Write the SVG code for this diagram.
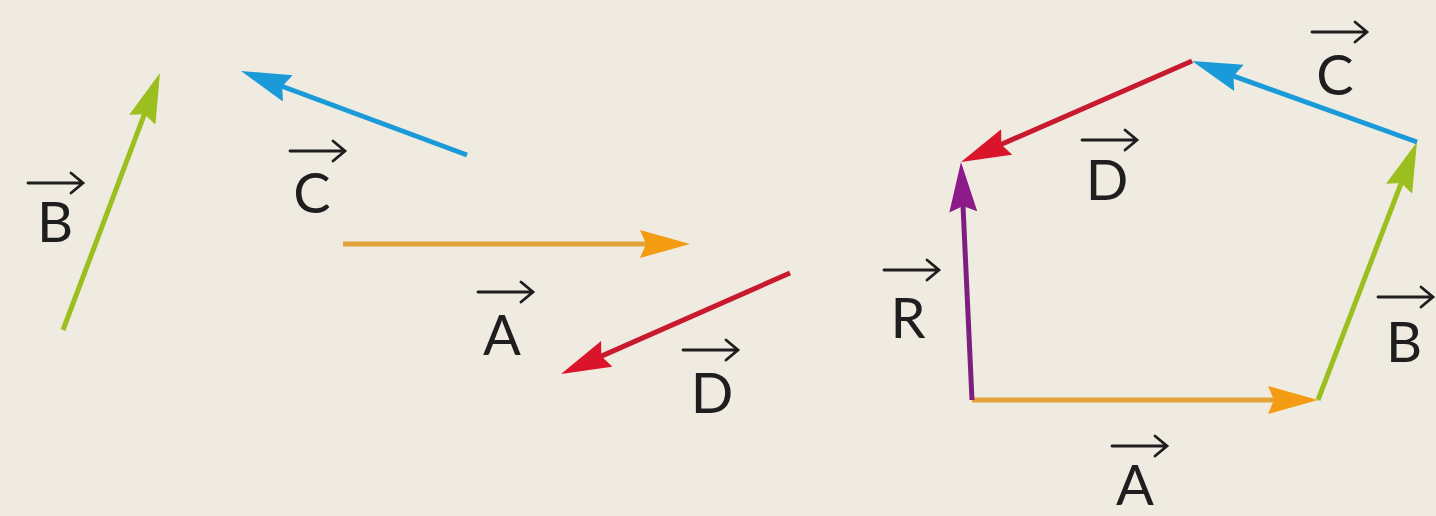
<svg xmlns="http://www.w3.org/2000/svg" width="1436" height="516" viewBox="0 0 1436 516">
<style>
.v{fill:none;stroke-width:5;stroke-linecap:butt}
.lbl{font-family:Lato,"Open Sans","Liberation Sans",sans-serif;font-size:56px;fill:#1e1e1e;text-anchor:middle}
.ov{fill:none;stroke:#1e1e1e;stroke-width:2.8;stroke-linecap:round;stroke-linejoin:miter}
</style>
<defs>
<marker id="hg" viewBox="0 0 50 28" refX="30" refY="14" markerWidth="50" markerHeight="28" markerUnits="userSpaceOnUse" orient="auto"><path d="M0 0L50 14L0 28L6 14Z" fill="#9bbf1e"/></marker>
<marker id="hb" viewBox="0 0 50 28" refX="30" refY="14" markerWidth="50" markerHeight="28" markerUnits="userSpaceOnUse" orient="auto"><path d="M0 0L50 14L0 28L6 14Z" fill="#1a9ad8"/></marker>
<marker id="ho" viewBox="0 0 50 28" refX="30" refY="14" markerWidth="50" markerHeight="28" markerUnits="userSpaceOnUse" orient="auto"><path d="M0 0L50 14L0 28L6 14Z" fill="#f39c12"/></marker>
<marker id="hr" viewBox="0 0 50 28" refX="30" refY="14" markerWidth="50" markerHeight="28" markerUnits="userSpaceOnUse" orient="auto"><path d="M0 0L50 14L0 28L6 14Z" fill="#d9142b"/></marker>
<marker id="hp" viewBox="0 0 50 28" refX="30" refY="14" markerWidth="50" markerHeight="28" markerUnits="userSpaceOnUse" orient="auto"><path d="M0 0L50 14L0 28L6 14Z" fill="#8e1a8a"/></marker>
<path id="ova" class="ov" d="M0 0H54M43-10L55 0L43 10"/>
</defs>
<rect width="1436" height="516" fill="#f0ebe1"/>
<g id="connectors">
<path id="lB" class="v" stroke="#9bbf1e" d="M63 330L152.9 91.7" marker-end="url(#hg)"/>
<path id="lC" class="v" stroke="#1a9ad8" d="M467 155L259.7 78" marker-end="url(#hb)"/>
<path id="lA" class="v" stroke="#e3a33a" d="M343 244L670 244" marker-end="url(#ho)"/>
<path id="lD" class="v" stroke="#c8192e" d="M790 273L579.3 365.9" marker-end="url(#hr)"/>
<path id="rA" class="v" stroke="#e3a33a" d="M972 400L1298 400" marker-end="url(#ho)"/>
<path id="rB" class="v" stroke="#9bbf1e" d="M1318 400L1409.8 160.7" marker-end="url(#hg)"/>
<path id="rC" class="v" stroke="#1a9ad8" d="M1417 142L1210.8 67.8" marker-end="url(#hb)"/>
<path id="rD" class="v" stroke="#c8192e" d="M1192 61L979.3 154" marker-end="url(#hr)"/>
<path id="rR" class="v" stroke="#7e1f80" stroke-width="4" d="M972 400L961.9 182" marker-end="url(#hp)"/>
</g>
<g id="label-B-left"><use href="#ova" x="28" y="183"/><text class="lbl" x="55" y="242">B</text></g>
<g id="label-C-left"><use href="#ova" x="290" y="151"/><text class="lbl" x="312" y="213">C</text></g>
<g id="label-A-left"><use href="#ova" x="478" y="292"/><text class="lbl" x="502" y="355">A</text></g>
<g id="label-D-left"><use href="#ova" x="683" y="350"/><text class="lbl" x="712" y="413">D</text></g>
<g id="label-C-right"><use href="#ova" x="1312" y="32"/><text class="lbl" x="1335" y="95">C</text></g>
<g id="label-D-right"><use href="#ova" x="1082" y="140"/><text class="lbl" x="1107" y="200">D</text></g>
<g id="label-R-right"><use href="#ova" x="884" y="270"/><text class="lbl" x="908" y="338">R</text></g>
<g id="label-B-right"><use href="#ova" x="1378" y="297"/><text class="lbl" x="1404" y="362">B</text></g>
<g id="label-A-right"><use href="#ova" x="1112" y="446"/><text class="lbl" x="1135" y="505">A</text></g>
</svg>
